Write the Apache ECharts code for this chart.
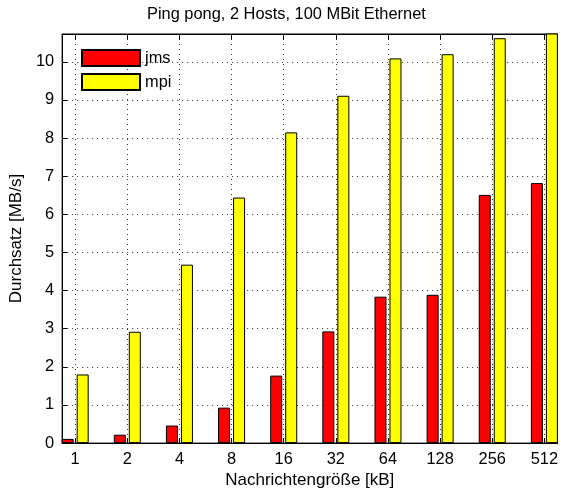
<!DOCTYPE html>
<html>
<head>
<meta charset="utf-8">
<script src="https://cdn.jsdelivr.net/npm/echarts@6/dist/echarts.min.js"></script>
<style>
html,body{margin:0;padding:0;background:#fff;}
#chart{width:561px;height:494px;}
</style>
</head>
<body>
<div id="chart"></div>
<script>
const categories = ['1', '2', '4', '8', '16', '32', '64', '128', '256', '512'];
const jms = [0.11, 0.22, 0.46, 0.93, 1.77, 2.93, 3.84, 3.89, 6.51, 6.82];
const mpi = [1.80, 2.92, 4.68, 6.44, 8.15, 9.11, 10.09, 10.20, 10.62, 10.90];
const seriesNames = ['jms', 'mpi'];
const titleText = 'Ping pong, 2 Hosts, 100 MBit Ethernet';
const xName = 'Nachrichtengröße [kB]';
const yName = 'Durchsatz [MB/s]';

const positions = categories.map((c, i) => i + 1);
const font = 'Liberation Sans, Arial, Helvetica, sans-serif';
const gridDots = { show: true, lineStyle: { type: [1, 4], color: '#333', width: 1 } };

const chart = echarts.init(document.getElementById('chart'), null, { renderer: 'canvas' });
chart.setOption({
  animation: false,
  backgroundColor: '#fff',
  textStyle: { fontFamily: font },
  title: {
    text: titleText,
    left: 147, top: 6, padding: 0,
    textStyle: { fontSize: 16.4, fontWeight: 'normal', color: '#000', fontFamily: font }
  },
  legend: {
    data: seriesNames,
    orient: 'vertical',
    left: 81, top: 49, padding: 0,
    itemWidth: 58, itemHeight: 16, itemGap: 6,
    icon: 'rect',
    textStyle: { fontSize: 16.4, color: '#000', fontFamily: font }
  },
  grid: { left: 60, right: 3, top: 34, bottom: 47, show: true, borderColor: '#000', borderWidth: 1, backgroundColor: 'transparent' },
  xAxis: [
    {
      type: 'value', min: 0.75, max: 10.25, position: 'bottom',
      name: xName, nameLocation: 'middle', nameGap: 27,
      nameTextStyle: { fontSize: 17, color: '#000', fontFamily: font },
      axisLine: { show: true, onZero: false, lineStyle: { color: '#000', width: 1 } },
      axisTick: { show: true, inside: true, length: 5, customValues: positions, lineStyle: { color: '#000' } },
      axisLabel: { customValues: positions, formatter: v => categories[Math.round(v) - 1], fontSize: 16.4, color: '#000', margin: 8, fontFamily: font },
      splitLine: gridDots
    },
    {
      type: 'value', min: 0.75, max: 10.25, position: 'top',
      axisLine: { show: true, onZero: false, lineStyle: { color: '#000', width: 1 } },
      axisTick: { show: true, inside: true, length: 5, customValues: positions, lineStyle: { color: '#000' } },
      axisLabel: { show: false },
      splitLine: { show: false }
    }
  ],
  yAxis: [
    {
      type: 'value', min: 0, max: 10.73, interval: 1, position: 'left',
      name: yName, nameLocation: 'middle', nameGap: 33, nameRotate: 90,
      nameTextStyle: { fontSize: 17, color: '#000', fontFamily: font },
      axisLine: { show: true, onZero: false, lineStyle: { color: '#000', width: 1 } },
      axisTick: { show: true, inside: true, length: 5, lineStyle: { color: '#000' } },
      axisLabel: { fontSize: 16.4, color: '#000', margin: 8, showMaxLabel: false, fontFamily: font },
      splitLine: gridDots
    },
    {
      type: 'value', min: 0, max: 10.73, interval: 1, position: 'right',
      axisLine: { show: true, onZero: false, lineStyle: { color: '#000', width: 1 } },
      axisTick: { show: true, inside: true, length: 5, lineStyle: { color: '#000' } },
      axisLabel: { show: false },
      splitLine: { show: false }
    }
  ],
  series: [
    {
      name: seriesNames[0], type: 'bar', xAxisIndex: 0, yAxisIndex: 0,
      data: jms.map((v, i) => [positions[i], v]),
      barWidth: 12, barGap: '25%',
      itemStyle: { color: '#ff0000', borderColor: '#000', borderWidth: 1 }
    },
    {
      name: seriesNames[1], type: 'bar', xAxisIndex: 0, yAxisIndex: 0,
      data: mpi.map((v, i) => [positions[i], v]),
      barWidth: 12, barGap: '25%',
      itemStyle: { color: '#ffff00', borderColor: '#000', borderWidth: 1 }
    }
  ]
});
</script>
</body>
</html>
